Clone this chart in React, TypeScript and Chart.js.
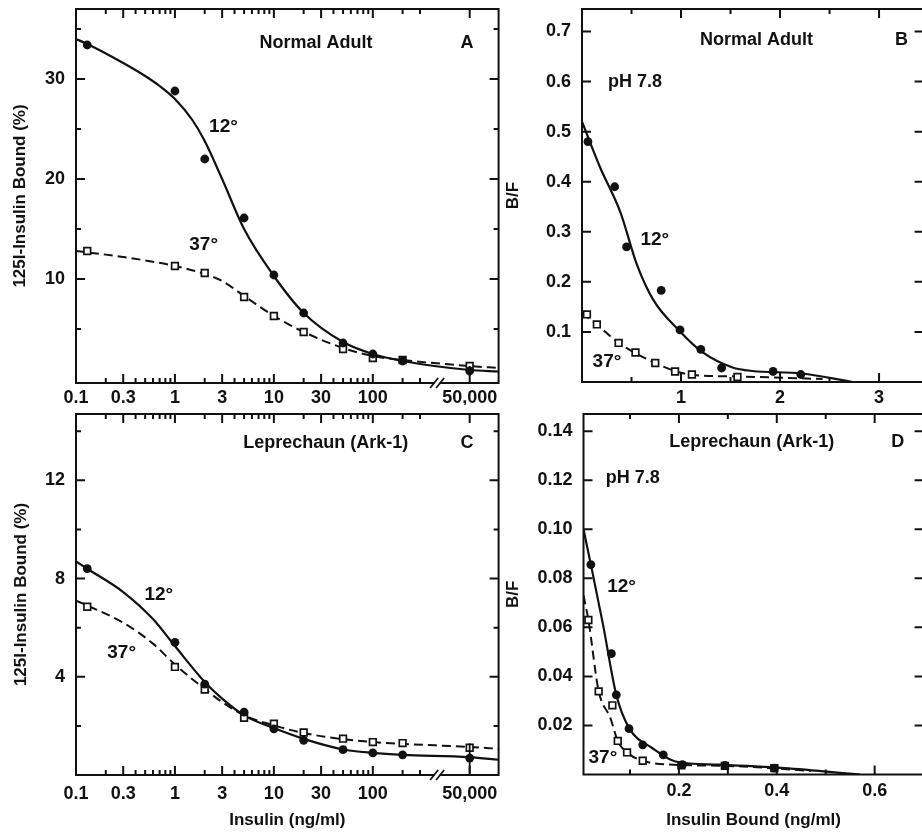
import React, { useEffect, useRef } from "react";
import { Chart, registerables } from "chart.js";

Chart.register(...registerables);

// ---------------- DATA ----------------
// Panel A – Normal adult, competitive binding (insulin ng/ml vs % bound)
const doseNormal = [0.13, 1, 2, 5, 10, 20, 50, 100, 200, 50000];
const normalBound12 = [33.4, 28.8, 22.0, 16.1, 10.4, 6.6, 3.6, 2.5, 1.8, 0.8];
const normalBound12Err = [0, 0, 0, 0, 0, 0, 0, 0, 0, 0.5];
const normalBound37 = [12.8, 11.3, 10.6, 8.2, 6.3, 4.7, 3.0, 2.1, 1.9, 1.3];
const normalFitDose12 = [0.1, 0.13, 0.3, 0.5, 0.7, 1, 1.5, 2, 3, 5, 10, 20, 50, 100, 200, 50000, 98000];
const normalFit12 = [34.0, 33.5, 31.6, 30.3, 29.3, 28.0, 25.9, 23.8, 20.0, 15.0, 10.3, 6.6, 3.7, 2.5, 1.8, 0.9, 0.75];
const normalFitDose37 = [0.1, 0.3, 1, 2, 3, 5, 10, 20, 50, 100, 200, 50000, 98000];
const normalFit37 = [12.8, 12.2, 11.3, 10.5, 9.8, 8.3, 6.3, 4.7, 3.1, 2.3, 1.9, 1.3, 1.1];

// Panel C – Leprechaun (Ark-1), competitive binding
const doseLep = [0.13, 1, 2, 5, 10, 20, 50, 100, 200, 50000];
const lepBound12 = [8.4, 5.4, 3.7, 2.56, 1.88, 1.41, 1.03, 0.9, 0.82, 0.69];
const lepBound12Err = [0, 0, 0, 0, 0, 0, 0, 0, 0, 0.6];
const lepBound37 = [6.85, 4.4, 3.48, 2.33, 2.09, 1.73, 1.48, 1.34, 1.3, 1.11];
const lepFitDose = [0.1, 0.13, 0.3, 0.6, 1, 2, 3, 5, 10, 20, 50, 100, 200, 50000, 98000];
const lepFit12 = [8.7, 8.4, 7.45, 6.35, 5.25, 3.79, 3.11, 2.43, 1.91, 1.47, 1.04, 0.9, 0.82, 0.73, 0.62];
const lepFit37 = [7.1, 6.9, 6.2, 5.35, 4.5, 3.5, 2.97, 2.43, 2.02, 1.71, 1.46, 1.34, 1.27, 1.14, 1.07];

// Panel B – Normal adult, Scatchard (insulin bound vs B/F)
const normalScat12X = [0.06, 0.33, 0.45, 0.8, 0.99, 1.2, 1.41, 1.93, 2.21];
const normalScat12Y = [0.48, 0.39, 0.27, 0.183, 0.104, 0.065, 0.028, 0.021, 0.015];
const normalScat37X = [0.05, 0.15, 0.37, 0.54, 0.74, 0.94, 1.11, 1.57];
const normalScat37Y = [0.135, 0.115, 0.078, 0.059, 0.038, 0.021, 0.015, 0.01];
const normalScatFit12X = [0, 0.18, 0.39, 0.55, 0.72, 0.99, 1.22, 1.52, 1.72, 2.22, 2.73];
const normalScatFit12Y = [0.52, 0.43, 0.338, 0.237, 0.164, 0.101, 0.059, 0.029, 0.022, 0.017, 0];
const normalScatFit37X = [0, 0.15, 0.37, 0.74, 0.99, 1.19, 1.59, 2.43];
const normalScatFit37Y = [0.138, 0.115, 0.078, 0.038, 0.019, 0.013, 0.011, 0.006];

// Panel D – Leprechaun (Ark-1), Scatchard
const lepScat12X = [0.02, 0.062, 0.072, 0.098, 0.126, 0.168, 0.207, 0.294, 0.395];
const lepScat12Y = [0.0856, 0.0493, 0.0325, 0.0187, 0.0121, 0.008, 0.004, 0.0037, 0.0026];
const lepScat37X = [0.015, 0.036, 0.064, 0.075, 0.094, 0.126, 0.205, 0.294, 0.395];
const lepScat37Y = [0.063, 0.0339, 0.0282, 0.0137, 0.009, 0.0056, 0.0037, 0.0035, 0.0026];
const lepScatFit12X = [0.005, 0.02, 0.045, 0.072, 0.098, 0.146, 0.193, 0.28, 0.415, 0.57];
const lepScatFit12Y = [0.1, 0.0856, 0.061, 0.0325, 0.019, 0.0107, 0.0053, 0.004, 0.0026, 0];
const lepScatFit37X = [0.005, 0.015, 0.036, 0.06, 0.075, 0.094, 0.126, 0.19, 0.3, 0.47];
const lepScatFit37Y = [0.073, 0.063, 0.034, 0.023, 0.0137, 0.009, 0.0056, 0.004, 0.0035, 0.0015];

// Tick values and labels
const doseTickValues = [0.1, 0.3, 1, 3, 10, 30, 100, 50000];
const doseTickLabels = ["0.1", "0.3", "1", "3", "10", "30", "100", "50,000"];
const doseMinorTicks = [0.2, 0.4, 0.5, 0.6, 0.7, 0.8, 0.9, 2, 4, 5, 6, 7, 8, 9, 20, 40, 50, 60, 70, 80, 90, 200, 300];
const normalBoundTicks = [10, 20, 30];
const normalBoundTickLabels = ["10", "20", "30"];
const normalBoundMinor = [5, 15, 25, 35];
const lepBoundTicks = [4, 8, 12];
const lepBoundTickLabels = ["4", "8", "12"];
const lepBoundMinor = [2, 6, 10, 14];
const normalScatXTicks = [1, 2, 3];
const normalScatXLabels = ["1", "2", "3"];
const normalScatXMinor = [0.5, 1.5, 2.5];
const normalScatYTicks = [0.1, 0.2, 0.3, 0.4, 0.5, 0.6, 0.7];
const normalScatYLabels = ["0.1", "0.2", "0.3", "0.4", "0.5", "0.6", "0.7"];
const lepScatXTicks = [0.2, 0.4, 0.6];
const lepScatXLabels = ["0.2", "0.4", "0.6"];
const lepScatXMinor = [0.1, 0.3, 0.5];
const lepScatYTicks = [0.02, 0.04, 0.06, 0.08, 0.1, 0.12, 0.14];
const lepScatYLabels = ["0.02", "0.04", "0.06", "0.08", "0.10", "0.12", "0.14"];

// ---------------- helpers ----------------
const FONT = "'Liberation Sans', Arial, Helvetica, sans-serif";
const INK = "#111";

// log dose axis with a scale break between 300 and 50,000
const BREAK_FROM = 1000;
const BREAK_SHIFT = 1.72;
const tf = (v: number) => (v > BREAK_FROM ? Math.log10(v) - BREAK_SHIFT : Math.log10(v));

type Ann = { text: string; fx: number; fy: number; size?: number };

interface Panel {
  left: number;
  top: number;
  width: number;
  height: number;
  pad: { top: number; right: number; left: number; bottom: number };
  yAxisWidth: number;
  xAxisHeight: number;
  xTickPad: number;
  xMin: number;
  xMax: number;
  yMin: number;
  yMax: number;
  xMajor: number[];
  xMajorLabels: string[];
  xMinor: number[];
  yMajor: number[];
  yMajorLabels: string[];
  yMinor: number[];
  xTitle?: string;
  yTitle: string;
  yTitlePad: number;
  breakAt?: number;
  annotations: Ann[];
  datasets: any[];
}

const pts = (xs: number[], ys: number[], fx: (v: number) => number = (v) => v) =>
  xs.map((x, i) => ({ x: fx(x), y: ys[i] }));

function markerSets(
  x12: number[], y12: number[], x37: number[], y37: number[],
  fx12: number[], fy12: number[], fx37: number[], fy37: number[],
  mapX: (v: number) => number, err12?: number[]
) {
  return [
    {
      label: "12° points",
      data: pts(x12, y12, mapX),
      pointStyle: "circle",
      pointRadius: 4.4,
      pointBackgroundColor: INK,
      pointBorderColor: INK,
      pointBorderWidth: 0,
      showLine: false,
      errY: err12,
    },
    {
      label: "37° points",
      data: pts(x37, y37, mapX),
      pointStyle: "rect",
      pointRadius: 4.7,
      pointBackgroundColor: "#fff",
      pointBorderColor: INK,
      pointBorderWidth: 1.7,
      showLine: false,
    },
    {
      label: "12° fit",
      data: pts(fx12, fy12, mapX),
      showLine: true,
      borderColor: INK,
      borderWidth: 2.2,
      pointRadius: 0,
      cubicInterpolationMode: "monotone",
      fill: false,
    },
    {
      label: "37° fit",
      data: pts(fx37, fy37, mapX),
      showLine: true,
      borderColor: INK,
      borderWidth: 2,
      borderDash: [9, 5],
      pointRadius: 0,
      cubicInterpolationMode: "monotone",
      fill: false,
    },
  ];
}

function decorPlugin(p: Panel) {
  return {
    id: "decor",
    afterDatasetsDraw(chart: any) {
      const { ctx, chartArea: a, scales } = chart;
      const xs = scales.x;
      const ys = scales.y;
      ctx.save();
      ctx.strokeStyle = INK;
      ctx.fillStyle = INK;
      ctx.lineCap = "butt";

      // error bars
      chart.data.datasets.forEach((ds: any, di: number) => {
        if (!ds.errY) return;
        const meta = chart.getDatasetMeta(di);
        ds.errY.forEach((e: number, i: number) => {
          if (!e) return;
          const el = meta.data[i];
          const yv = ds.data[i].y;
          ctx.lineWidth = 1.8;
          ctx.beginPath();
          ctx.moveTo(el.x, ys.getPixelForValue(yv - e));
          ctx.lineTo(el.x, ys.getPixelForValue(yv + e));
          ctx.stroke();
        });
      });

      // frame
      ctx.lineWidth = 2;
      ctx.strokeRect(a.left, a.top, a.right - a.left, a.bottom - a.top);

      // inward ticks
      const xt = (vals: number[], len: number) => {
        vals.forEach((v) => {
          const px = xs.getPixelForValue(v);
          if (px <= a.left + 1 || px >= a.right - 1) return;
          ctx.beginPath();
          ctx.moveTo(px, a.bottom);
          ctx.lineTo(px, a.bottom - len);
          ctx.moveTo(px, a.top);
          ctx.lineTo(px, a.top + len);
          ctx.stroke();
        });
      };
      const yt = (vals: number[], len: number) => {
        vals.forEach((v) => {
          const py = ys.getPixelForValue(v);
          if (py <= a.top + 1 || py >= a.bottom - 1) return;
          ctx.beginPath();
          ctx.moveTo(a.left, py);
          ctx.lineTo(a.left + len, py);
          ctx.moveTo(a.right, py);
          ctx.lineTo(a.right - len, py);
          ctx.stroke();
        });
      };
      xt(p.xMajor, 9);
      xt(p.xMinor, 5);
      yt(p.yMajor, 9);
      yt(p.yMinor, 5);

      // axis break mark
      if (p.breakAt !== undefined) {
        const bx = xs.getPixelForValue(p.breakAt);
        ctx.fillStyle = "#fff";
        ctx.fillRect(bx - 2.5, a.bottom - 2, 5, 4);
        ctx.lineWidth = 1.8;
        [-3, 3].forEach((o) => {
          ctx.beginPath();
          ctx.moveTo(bx + o - 4, a.bottom + 5);
          ctx.lineTo(bx + o + 4, a.bottom - 5);
          ctx.stroke();
        });
      }

      // annotations
      ctx.fillStyle = INK;
      ctx.textAlign = "center";
      ctx.textBaseline = "middle";
      p.annotations.forEach((an) => {
        ctx.font = `bold ${an.size || 18}px ${FONT}`;
        ctx.fillText(
          an.text,
          a.left + an.fx * (a.right - a.left),
          a.top + an.fy * (a.bottom - a.top)
        );
      });
      ctx.restore();
    },
  };
}

function zeroPad(s: any) {
  s.paddingTop = 0;
  s.paddingBottom = 0;
  s.paddingLeft = 0;
  s.paddingRight = 0;
}

function buildConfig(p: Panel): any {
  const tickFont = { family: FONT, size: 18, weight: "bold" };
  const titleFont = { family: FONT, size: 17, weight: "bold" };
  return {
    type: "scatter",
    data: { datasets: p.datasets },
    plugins: [decorPlugin(p)],
    options: {
      animation: false,
      responsive: false,
      events: [],
      layout: { padding: p.pad },
      plugins: { legend: { display: false }, tooltip: { enabled: false } },
      scales: {
        x: {
          type: "linear",
          position: "bottom",
          bounds: "data",
          min: p.xMin,
          max: p.xMax,
          grid: { display: false, drawTicks: false },
          border: { display: false },
          ticks: {
            autoSkip: false,
            maxRotation: 0,
            minRotation: 0,
            padding: p.xTickPad,
            color: INK,
            font: tickFont,
            callback: (v: number) => {
              const i = p.xMajor.findIndex((m) => Math.abs(m - v) < 1e-9);
              return i >= 0 ? p.xMajorLabels[i] : "";
            },
          },
          afterBuildTicks: (s: any) => {
            s.ticks = p.xMajor.map((v) => ({ value: v }));
          },
          afterFit: (s: any) => {
            s.height = p.xAxisHeight;
            zeroPad(s);
          },
          title: p.xTitle
            ? { display: true, text: p.xTitle, color: INK, font: titleFont, padding: { top: 0, bottom: 1 } }
            : { display: false },
        },
        y: {
          type: "linear",
          position: "left",
          bounds: "data",
          min: p.yMin,
          max: p.yMax,
          grid: { display: false, drawTicks: false },
          border: { display: false },
          ticks: {
            autoSkip: false,
            padding: 11,
            color: INK,
            font: tickFont,
            callback: (v: number) => {
              const i = p.yMajor.findIndex((m) => Math.abs(m - v) < 1e-9);
              return i >= 0 ? p.yMajorLabels[i] : "";
            },
          },
          afterBuildTicks: (s: any) => {
            s.ticks = p.yMajor.map((v) => ({ value: v }));
          },
          afterFit: (s: any) => {
            s.width = p.yAxisWidth;
            zeroPad(s);
          },
          title: {
            display: true,
            text: p.yTitle,
            color: INK,
            font: titleFont,
            padding: { top: p.yTitlePad, bottom: 0 },
          },
        },
      },
    },
  };
}

// ---------------- panels ----------------
const panelA: Panel = {
  left: 0, top: 0, width: 505, height: 405,
  pad: { top: 9, right: 5, left: 0, bottom: 0 },
  yAxisWidth: 76, xAxisHeight: 22, xTickPad: 4,
  xMin: tf(0.1), xMax: tf(98000), yMin: -0.4, yMax: 37,
  xMajor: doseTickValues.map(tf), xMajorLabels: doseTickLabels, xMinor: doseMinorTicks.map(tf),
  yMajor: normalBoundTicks, yMajorLabels: normalBoundTickLabels, yMinor: normalBoundMinor,
  yTitle: "125I-Insulin Bound (%)", yTitlePad: 10,
  breakAt: 2.65,
  annotations: [
    { text: "Normal Adult", fx: 0.568, fy: 0.09 },
    { text: "A", fx: 0.925, fy: 0.09 },
    { text: "12°", fx: 0.349, fy: 0.315, size: 19 },
    { text: "37°", fx: 0.302, fy: 0.631, size: 19 },
  ],
  datasets: markerSets(
    doseNormal, normalBound12, doseNormal, normalBound37,
    normalFitDose12, normalFit12, normalFitDose37, normalFit37, tf, normalBound12Err
  ),
};

const panelB: Panel = {
  left: 500, top: 0, width: 430, height: 405,
  pad: { top: 9, right: 6, left: 0, bottom: 0 },
  yAxisWidth: 82, xAxisHeight: 23, xTickPad: 5,
  xMin: 0, xMax: 3.45, yMin: 0, yMax: 0.745,
  xMajor: normalScatXTicks, xMajorLabels: normalScatXLabels, xMinor: normalScatXMinor,
  yMajor: normalScatYTicks, yMajorLabels: normalScatYLabels, yMinor: [],
  yTitle: "B/F", yTitlePad: 3.5,
  annotations: [
    { text: "Normal Adult", fx: 0.511, fy: 0.083 },
    { text: "B", fx: 0.935, fy: 0.083 },
    { text: "pH 7.8", fx: 0.155, fy: 0.195 },
    { text: "12°", fx: 0.213, fy: 0.619, size: 19 },
    { text: "37°", fx: 0.073, fy: 0.946, size: 19 },
  ],
  datasets: markerSets(
    normalScat12X, normalScat12Y, normalScat37X, normalScat37Y,
    normalScatFit12X, normalScatFit12Y, normalScatFit37X, normalScatFit37Y, (v) => v
  ),
};

const panelC: Panel = {
  left: 0, top: 405, width: 505, height: 427,
  pad: { top: 9, right: 5, left: 0, bottom: 0 },
  yAxisWidth: 76, xAxisHeight: 57, xTickPad: 8,
  xMin: tf(0.1), xMax: tf(98000), yMin: 0, yMax: 14.7,
  xMajor: doseTickValues.map(tf), xMajorLabels: doseTickLabels, xMinor: doseMinorTicks.map(tf),
  yMajor: lepBoundTicks, yMajorLabels: lepBoundTickLabels, yMinor: lepBoundMinor,
  xTitle: "Insulin (ng/ml)",
  yTitle: "125I-Insulin Bound (%)", yTitlePad: 11,
  breakAt: 2.65,
  annotations: [
    { text: "Leprechaun (Ark-1)", fx: 0.591, fy: 0.081 },
    { text: "C", fx: 0.925, fy: 0.08 },
    { text: "12°", fx: 0.196, fy: 0.501, size: 19 },
    { text: "37°", fx: 0.108, fy: 0.662, size: 19 },
  ],
  datasets: markerSets(
    doseLep, lepBound12, doseLep, lepBound37,
    lepFitDose, lepFit12, lepFitDose, lepFit37, tf, lepBound12Err
  ),
};

const panelD: Panel = {
  left: 500, top: 405, width: 430, height: 427,
  pad: { top: 9, right: 4, left: 0, bottom: 0 },
  yAxisWidth: 83.5, xAxisHeight: 57.5, xTickPad: 6,
  xMin: 0.005, xMax: 0.7, yMin: 0, yMax: 0.147,
  xMajor: lepScatXTicks, xMajorLabels: lepScatXLabels, xMinor: lepScatXMinor,
  yMajor: lepScatYTicks, yMajorLabels: lepScatYLabels, yMinor: [],
  xTitle: "Insulin Bound (ng/ml)",
  yTitle: "B/F", yTitlePad: 3.5,
  annotations: [
    { text: "Leprechaun (Ark-1)", fx: 0.495, fy: 0.077 },
    { text: "D", fx: 0.924, fy: 0.077 },
    { text: "pH 7.8", fx: 0.145, fy: 0.178 },
    { text: "12°", fx: 0.112, fy: 0.479, size: 19 },
    { text: "37°", fx: 0.057, fy: 0.954, size: 19 },
  ],
  datasets: markerSets(
    lepScat12X, lepScat12Y, lepScat37X, lepScat37Y,
    lepScatFit12X, lepScatFit12Y, lepScatFit37X, lepScatFit37Y, (v) => v
  ),
};

const PANELS = [panelA, panelB, panelC, panelD];

function PanelChart({ p }: { p: Panel }) {
  const ref = useRef<HTMLCanvasElement | null>(null);
  useEffect(() => {
    if (!ref.current) return;
    const chart = new Chart(ref.current, buildConfig(p));
    return () => chart.destroy();
  }, [p]);
  return (
    <canvas
      ref={ref}
      width={p.width}
      height={p.height}
      style={{ position: "absolute", left: p.left, top: p.top, width: p.width, height: p.height }}
    />
  );
}

export default function App() {
  return (
    <div
      style={{
        position: "fixed",
        left: 0,
        top: 0,
        width: 922,
        height: 832,
        overflow: "hidden",
        background: "#fff",
      }}
    >
      {PANELS.map((p, i) => (
        <PanelChart key={i} p={p} />
      ))}
    </div>
  );
}
